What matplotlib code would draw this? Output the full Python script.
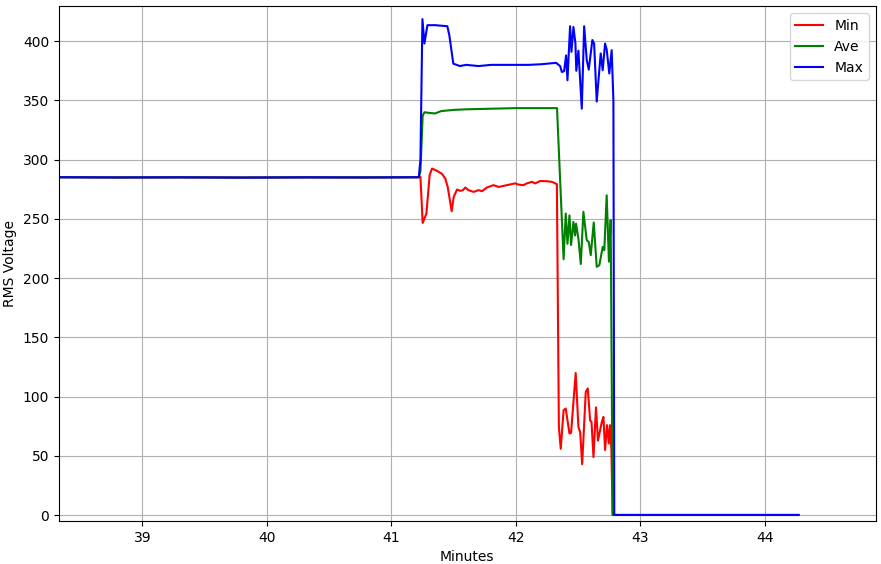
import matplotlib
matplotlib.use("Agg")
import numpy as np
import matplotlib.pyplot as plt

# steady part before the event (all three series overlap here)
t_flat = [38.33, 38.8, 39.3, 39.8, 40.3, 40.8, 41.22]
v_flat = [285.2, 285.0, 285.1, 284.9, 285.1, 285.0, 285.2]

# after the outage (all three at zero)
t_off = [42.79, 43.5, 44.27]
v_off = [0.2, 0.2, 0.2]

# Min
t_min = [41.233, 41.251, 41.281, 41.307, 41.326, 41.366, 41.406, 41.433, 41.452,
         41.484, 41.5, 41.527, 41.553, 41.575, 41.593, 41.62, 41.66, 41.7, 41.727,
         41.767, 41.82, 41.86, 41.928, 41.994, 42.02, 42.06, 42.088, 42.128, 42.155,
         42.195, 42.249, 42.289, 42.329, 42.345, 42.36, 42.383, 42.40, 42.43, 42.443,
         42.48, 42.502, 42.516, 42.532, 42.561, 42.577, 42.596, 42.607, 42.623, 42.643,
         42.659, 42.69, 42.703, 42.716, 42.732, 42.746, 42.756, 42.767, 42.777]
min_v = [285.5, 246.6, 254.6, 287, 292.5, 290.6, 288, 284, 277,
         256.5, 268.6, 274.8, 273.7, 274.3, 276.5, 274.3, 272.8, 274.3, 273.4,
         276.5, 278.5, 277, 278.5, 280, 279, 278.5, 280, 281.3, 280,
         282, 281.8, 281.3, 279.3, 74.5, 56, 88.6, 90, 69, 69.5,
         120, 74.5, 70, 43, 104, 107, 80, 78.7, 49, 91,
         63, 78.7, 83, 55, 76, 60.5, 76, 55, 0.2]

# Ave
t_ave = [41.233, 41.251, 41.265, 41.3, 41.35, 41.4, 41.5, 41.6, 41.8, 42.0, 42.2,
         42.33, 42.355, 42.383, 42.40, 42.414, 42.43, 42.443, 42.462, 42.475, 42.483,
         42.502, 42.521, 42.542, 42.569, 42.585, 42.601, 42.625, 42.649, 42.67,
         42.697, 42.71, 42.729, 42.747, 42.761, 42.777]
ave_v = [290, 337, 340, 339.5, 339, 341, 342, 342.5, 343, 343.5, 343.5,
         343.5, 283, 216, 254.6, 229, 253, 228, 247.5, 236, 246,
         233.5, 212, 256, 232, 230.6, 219.4, 247, 209.6, 211,
         226.4, 223.6, 270, 214, 249, 0.2]

# Max
t_max = [41.233, 41.249, 41.265, 41.289, 41.35, 41.449, 41.465, 41.497, 41.55,
         41.6, 41.7, 41.8, 41.9, 42.0, 42.1, 42.2, 42.323, 42.355, 42.369, 42.387,
         42.403, 42.414, 42.435, 42.446, 42.462, 42.478, 42.485, 42.502, 42.529,
         42.548, 42.569, 42.585, 42.614, 42.628, 42.649, 42.681, 42.697, 42.716,
         42.729, 42.750, 42.769, 42.783, 42.79]
max_v = [300, 418.6, 398, 413.5, 413.5, 412.6, 405, 381, 379,
         380, 379, 380, 380, 380, 380, 380.5, 381.7, 379, 374, 374.7,
         388, 367, 412.6, 391, 412, 398, 375, 392, 343,
         412.6, 384, 376, 401, 398, 349, 389.6, 375.5, 398,
         393, 372.7, 392.4, 350, 0.2]

fig, ax = plt.subplots(figsize=(8.81, 5.64), dpi=100)

for t, v, col, lab in [(t_min, min_v, "red", "Min"),
                       (t_ave, ave_v, "green", "Ave"),
                       (t_max, max_v, "blue", "Max")]:
    x = np.concatenate([t_flat, t, t_off])
    y = np.concatenate([v_flat, v, v_off])
    ax.plot(x, y, color=col, label=lab, linewidth=1.5)

ax.set_xlim(38.33, 44.89)
ax.set_ylim(-5, 429.5)
ax.set_yticks(np.arange(0, 401, 50))
ax.set_xlabel("Minutes")
ax.set_ylabel("RMS Voltage")
ax.grid(True)
ax.legend(loc="upper right")

plt.subplots_adjust(left=0.067, right=0.994, bottom=0.076, top=0.989)
plt.savefig("out.png")
